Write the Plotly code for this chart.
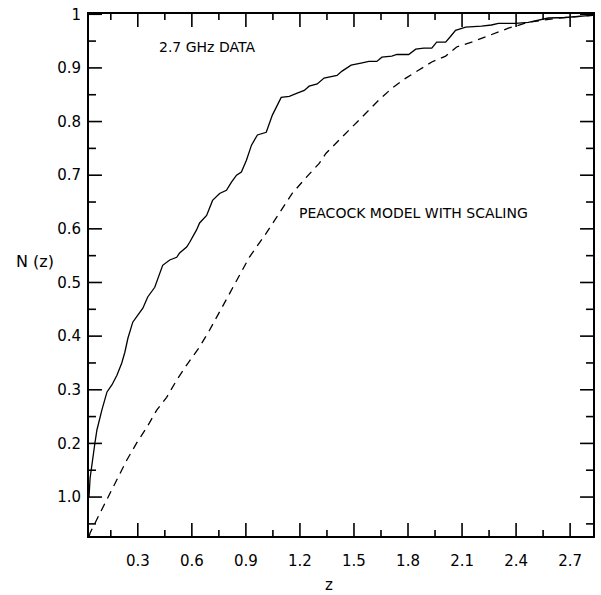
import plotly.graph_objects as go

# Observed data (solid curve), 2.7 GHz
data_z = [0.029, 0.035, 0.062, 0.073, 0.101, 0.129, 0.156, 0.184, 0.211, 0.228, 0.245, 0.272,
          0.300, 0.328, 0.355, 0.394, 0.438, 0.477, 0.516, 0.532, 0.571, 0.588, 0.626, 0.643,
          0.682, 0.715, 0.754, 0.792, 0.820, 0.848, 0.875, 0.903, 0.931, 0.964, 1.013, 1.047,
          1.096, 1.141, 1.185, 1.224, 1.251, 1.296, 1.334, 1.362, 1.406, 1.434, 1.484, 1.539,
          1.583, 1.627, 1.655, 1.710, 1.738, 1.804, 1.843, 1.887, 1.932, 1.959, 2.009, 2.037,
          2.064, 2.081, 2.120, 2.208, 2.263, 2.302, 2.396, 2.468, 2.540, 2.579, 2.673, 2.761, 2.817]
data_n = [0.100, 0.135, 0.201, 0.225, 0.263, 0.296, 0.309, 0.327, 0.350, 0.370, 0.396, 0.426,
          0.439, 0.452, 0.473, 0.491, 0.532, 0.542, 0.547, 0.555, 0.566, 0.575, 0.598, 0.611,
          0.625, 0.653, 0.666, 0.672, 0.687, 0.700, 0.706, 0.728, 0.756, 0.775, 0.780, 0.812,
          0.845, 0.847, 0.853, 0.858, 0.866, 0.870, 0.881, 0.883, 0.886, 0.894, 0.905, 0.909,
          0.912, 0.912, 0.920, 0.922, 0.925, 0.925, 0.935, 0.937, 0.937, 0.948, 0.948, 0.959,
          0.970, 0.972, 0.976, 0.978, 0.980, 0.983, 0.983, 0.985, 0.991, 0.993, 0.994, 0.996, 0.998]

# Peacock model with scaling (dashed curve)
model_z = [0.030, 0.035, 0.090, 0.134, 0.184, 0.239, 0.294, 0.350, 0.405, 0.460, 0.516, 0.571,
           0.643, 0.698, 0.765, 0.919, 1.013, 1.085, 1.157, 1.235, 1.307, 1.345, 1.417, 1.489,
           1.567, 1.638, 1.710, 1.788, 1.860, 1.932, 2.009, 2.070, 2.153, 2.357, 2.468, 2.634, 2.827]
model_n = [0.027, 0.033, 0.070, 0.100, 0.132, 0.169, 0.201, 0.230, 0.262, 0.286, 0.318, 0.346,
           0.380, 0.411, 0.452, 0.547, 0.592, 0.629, 0.666, 0.696, 0.722, 0.741, 0.765, 0.789,
           0.816, 0.840, 0.862, 0.881, 0.896, 0.911, 0.922, 0.939, 0.948, 0.974, 0.985, 0.993, 0.998]

x_tickvals = [0.3, 0.6, 0.9, 1.2, 1.5, 1.8, 2.1, 2.4, 2.7]
x_ticktext = ["0.3", "0.6", "0.9", "1.2", "1.5", "1.8", "2.1", "2.4", "2.7"]
x_minor = [0.15, 0.45, 0.75, 1.05, 1.35, 1.65, 1.95, 2.25, 2.55]
y_tickvals = [0.1, 0.2, 0.3, 0.4, 0.5, 0.6, 0.7, 0.8, 0.9, 1.0]
y_ticktext = ["1.0", "0.2", "0.3", "0.4", "0.5", "0.6", "0.7", "0.8", "0.9", "1"]
y_minor = [0.05, 0.15, 0.25, 0.35, 0.45, 0.55, 0.65, 0.75, 0.85, 0.95]

X_RANGE = [0.029, 2.827]
Y_RANGE = [0.0274, 1.0005]
FONT = "DejaVu Sans"

W, H = 601, 595
ML, MR, MT, MB = 89, 6, 14, 59
px_x = (X_RANGE[1] - X_RANGE[0]) / (W - ML - MR)   # data units per pixel (x)
px_y = (Y_RANGE[1] - Y_RANGE[0]) / (H - MT - MB)   # data units per pixel (y)

fig = go.Figure()
fig.add_trace(go.Scatter(x=data_z, y=data_n, mode="lines",
                         line=dict(color="black", width=1.3), showlegend=False))
fig.add_trace(go.Scatter(x=model_z, y=model_n, mode="lines",
                         line=dict(color="black", width=1.3, dash="8px,6px"), showlegend=False))

# inward tick marks on all four sides, derived from the tick lists
tx, ty = [], []
for vals, ln in ((x_tickvals, 13), (x_minor, 6)):
    for v in vals:
        tx += [v, v, None, v, v, None]
        ty += [Y_RANGE[0], Y_RANGE[0] + ln * px_y, None,
               Y_RANGE[1], Y_RANGE[1] - ln * px_y, None]
for vals, ln in ((y_tickvals, 13), (y_minor, 7)):
    for v in vals:
        tx += [X_RANGE[0], X_RANGE[0] + ln * px_x, None,
               X_RANGE[1], X_RANGE[1] - ln * px_x, None]
        ty += [v, v, None, v, v, None]
fig.add_trace(go.Scatter(x=tx, y=ty, mode="lines", line=dict(color="black", width=1.6),
                         hoverinfo="skip", showlegend=False, cliponaxis=False))

tickfont = dict(family=FONT, size=15, color="black")

fig.update_layout(
    width=W, height=H, margin=dict(l=ML, r=MR, t=MT, b=MB),
    paper_bgcolor="white", plot_bgcolor="white",
    font=dict(family=FONT, color="black"),
    xaxis=dict(range=X_RANGE, tickmode="array", tickvals=x_tickvals, ticktext=x_ticktext,
               showline=True, linecolor="black", linewidth=2, mirror=True, ticks="",
               showgrid=False, zeroline=False, tickfont=tickfont, ticklabelstandoff=10),
    yaxis=dict(range=Y_RANGE, tickmode="array", tickvals=y_tickvals, ticktext=y_ticktext,
               showline=True, linecolor="black", linewidth=2, mirror=True, ticks="",
               showgrid=False, zeroline=False, tickfont=tickfont, ticklabelstandoff=3),
)

fig.add_annotation(x=0.405, y=0.939, xref="x", yref="y", text="2.7 GHz DATA",
                   showarrow=False, xanchor="left", yanchor="middle",
                   font=dict(family=FONT, size=14, color="black"))
fig.add_annotation(x=1.185, y=0.629, xref="x", yref="y", text="PEACOCK MODEL WITH SCALING",
                   showarrow=False, xanchor="left", yanchor="middle",
                   font=dict(family=FONT, size=14, color="black"))
fig.add_annotation(x=-0.107, y=0.525, xref="paper", yref="paper", text="N (z)",
                   showarrow=False, xanchor="center", yanchor="middle",
                   font=dict(family=FONT, size=16, color="black"))
fig.add_annotation(x=0.476, y=-0.094, xref="paper", yref="paper", text="z",
                   showarrow=False, xanchor="center", yanchor="middle",
                   font=dict(family=FONT, size=15, color="black"))

fig.write_html("out.html")
